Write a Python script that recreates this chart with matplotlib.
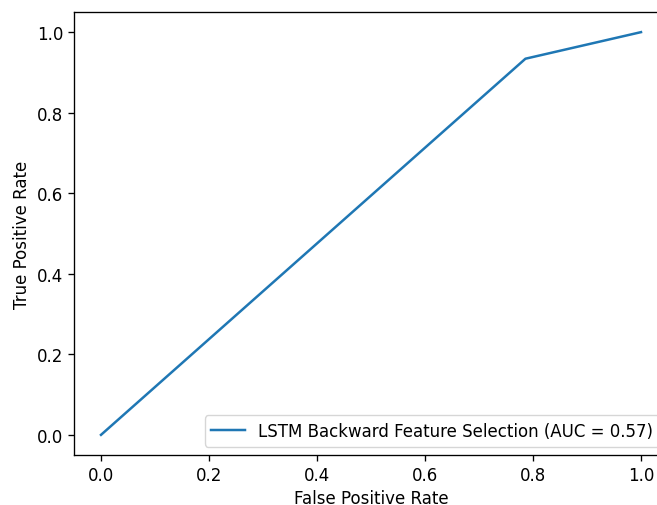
import matplotlib.pyplot as plt

fpr = [0.0, 0.786, 1.0]
tpr = [0.0, 0.934, 1.0]
roc_auc = 0.57
label = "LSTM Backward Feature Selection"

# reference looks like the default style rendered about 1.2x larger
scale = 1.2
plt.rcParams['font.size'] = 10 * scale
plt.rcParams['lines.linewidth'] = 1.5 * scale
plt.rcParams['axes.linewidth'] = 0.8 * scale
plt.rcParams['xtick.major.size'] = 3.5 * scale
plt.rcParams['ytick.major.size'] = 3.5 * scale
plt.rcParams['xtick.major.width'] = 0.8 * scale
plt.rcParams['ytick.major.width'] = 0.8 * scale

fig = plt.figure(figsize=(6.57, 5.06), dpi=100)
# the original image is cut off on the right, so the axes run past the figure edge
ax = fig.add_axes([74 / 657, 50 / 506, 594 / 657, 443 / 506])

ax.plot(fpr, tpr, label=f"{label} (AUC = {roc_auc:.2f})")
ax.set_xlabel("False Positive Rate")
ax.set_ylabel("True Positive Rate")
ax.legend(loc="lower right")

fig.savefig("out.png", dpi=100)
